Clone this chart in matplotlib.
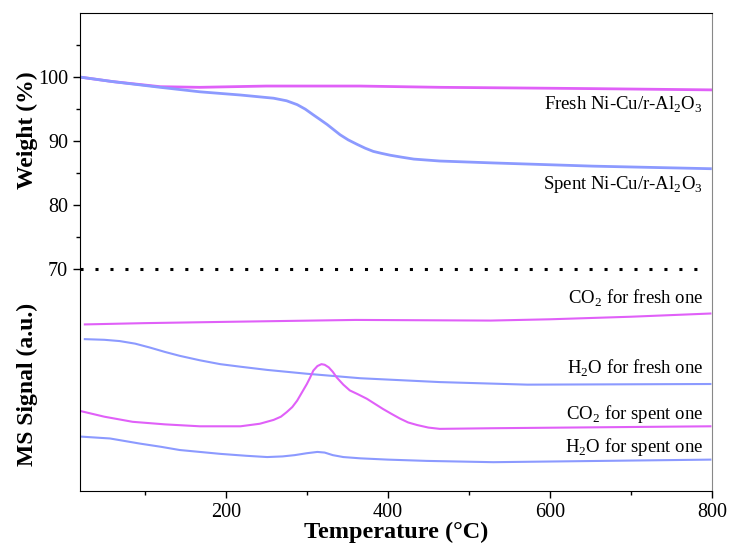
import matplotlib.pyplot as plt

plt.rcParams['font.family'] = ['Liberation Serif', 'DejaVu Serif']
plt.rcParams['mathtext.fontset'] = 'custom'
plt.rcParams['mathtext.rm'] = 'Liberation Serif'

# TG weight curves (%)
t_fresh = [20, 60, 119, 168, 250, 365, 465, 560, 650, 800]
w_fresh = [100.0, 99.3, 98.5, 98.4, 98.6, 98.6, 98.4, 98.3, 98.2, 98.0]

t_spent = [20, 60, 119, 168, 218, 259, 275, 288, 298, 308, 316, 325, 333, 341,
           351, 362, 372, 382, 392, 403, 417, 432, 464, 530, 653, 798]
w_spent = [100.0, 99.3, 98.4, 97.7, 97.2, 96.7, 96.3, 95.7, 95.0, 94.1, 93.4,
           92.6, 91.8, 91.0, 90.2, 89.5, 88.9, 88.4, 88.1, 87.8, 87.5, 87.2,
           86.9, 86.6, 86.1, 85.7]

# MS signals (arbitrary units, stacked below the weight panel)
t_co2_fresh = [26, 100, 200, 360, 527, 600, 700, 798]
ms_co2_fresh = [61.4, 61.6, 61.8, 62.1, 62.0, 62.2, 62.6, 63.1]

t_h2o_fresh = [26, 50, 69, 88, 106, 125, 143, 168, 193, 218, 251, 300, 366,
               464, 572, 798]
ms_h2o_fresh = [59.1, 59.0, 58.8, 58.4, 57.8, 57.1, 56.5, 55.8, 55.2, 54.8,
                54.3, 53.7, 53.0, 52.4, 52.0, 52.1]

t_co2_spent = [20, 50, 85, 125, 168, 218, 242, 259, 268, 275, 282, 288, 294,
               300, 304, 308, 313, 318, 322, 327, 332, 337, 345, 353, 363,
               374, 384, 394, 405, 415, 425, 436, 450, 464, 530, 798]
ms_co2_spent = [47.9, 47.0, 46.2, 45.8, 45.5, 45.5, 45.9, 46.5, 47.0, 47.7,
                48.5, 49.5, 50.8, 52.1, 53.1, 54.2, 54.9, 55.2, 55.1, 54.7,
                54.0, 53.1, 52.0, 51.1, 50.5, 49.8, 49.0, 48.2, 47.4, 46.7,
                46.1, 45.7, 45.3, 45.1, 45.2, 45.5]

t_h2o_spent = [20, 57, 94, 120, 143, 168, 193, 225, 251, 270, 285, 300, 313,
               322, 332, 345, 366, 400, 448, 530, 798]
ms_h2o_spent = [43.9, 43.6, 42.8, 42.3, 41.8, 41.5, 41.2, 40.9, 40.7, 40.8,
                41.0, 41.3, 41.5, 41.4, 41.0, 40.7, 40.5, 40.3, 40.1, 39.9,
                40.3]

magenta = "#e060f8"
blue = "#8c9aff"

fig = plt.figure(figsize=(7.29, 5.46), dpi=100)
ax = fig.add_axes([0.1097, 0.1007, 0.8670, 0.8755])

ax.plot(t_fresh, w_fresh, color=magenta, lw=2)
ax.plot(t_spent, w_spent, color=blue, lw=2)
ax.plot(t_co2_fresh, ms_co2_fresh, color=magenta, lw=1.5)
ax.plot(t_h2o_fresh, ms_h2o_fresh, color=blue, lw=1.5)
ax.plot(t_co2_spent, ms_co2_spent, color=magenta, lw=1.5)
ax.plot(t_h2o_spent, ms_h2o_spent, color=blue, lw=1.5)

ax.plot([20, 785], [70, 70], color="black", lw=2.2, linestyle=(0, (1, 3.9)))

ax.set_xlim(20, 800)
ax.set_ylim(35.4, 110)
ax.set_xticks([200, 400, 600, 800])
ax.set_xticks([100, 300, 500, 700], minor=True)
ax.set_yticks([70, 80, 90, 100])
ax.set_yticks([75, 85, 95, 105], minor=True)
ax.tick_params(labelsize=14.5, direction="out", length=5, width=1)
ax.tick_params(which="minor", direction="out", length=3, width=1)
ax.spines["right"].set_color("#888888")

ax.set_xlabel("Temperature (°C)", fontsize=17.5, fontweight="bold", labelpad=0)
fig.text(0.037, 0.762, "Weight (%)", rotation=90, ha="center", va="center",
         fontsize=17, fontweight="bold")
fig.text(0.037, 0.295, "MS Signal (a.u.)", rotation=90, ha="center", va="center",
         fontsize=17, fontweight="bold")

labels = [
    ("Fresh Ni-Cu/r-Al$_2$O$_3$", 95.6),
    ("Spent Ni-Cu/r-Al$_2$O$_3$", 83.2),
    ("CO$_2$ for fresh one", 65.5),
    ("H$_2$O for fresh one", 54.5),
    ("CO$_2$ for spent one", 47.4),
    ("H$_2$O for spent one", 42.3),
]
for txt, y in labels:
    ax.text(789, y, txt, ha="right", va="center", fontsize=13.5)

fig.savefig("out.png", dpi=100)
